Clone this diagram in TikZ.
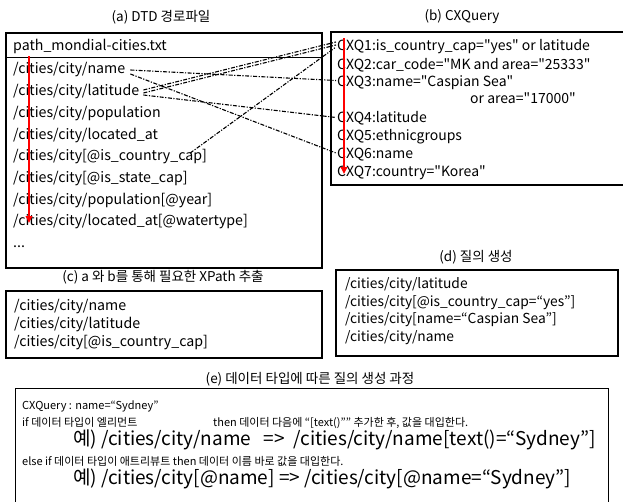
\documentclass[tikz,border=0pt]{standalone}
\usepackage{fontspec}
\newfontfamily\krfont{Noto Sans CJK KR}
\usetikzlibrary{arrows.meta}

\begin{document}
\begin{tikzpicture}[
  x=1pt, y=-1pt,
  ttl/.style={inner sep=1pt, font=\krfont\fontsize{13.5}{16}\selectfont},
  row/.style={anchor=west, inner sep=1pt, text height=0.75em, text depth=0.2em},
  rowa/.style={row, font=\krfont\fontsize{14.2}{16}\selectfont},
  rowb/.style={row, font=\krfont\fontsize{14}{16}\selectfont},
  rowd/.style={row, font=\krfont\fontsize{13.8}{16}\selectfont},
  rowe/.style={row, font=\krfont\fontsize{11}{13}\selectfont},
  rowbig/.style={row, font=\krfont\fontsize{19}{21}\selectfont},
  panel/.style={draw, line width=1.8pt, anchor=north west, inner sep=0pt},
  link/.style={line width=1.1pt, dash pattern=on 4pt off 1.5pt on 1.2pt off 1.5pt},
  redarr/.style={draw=red, line width=2pt, -{Triangle[length=7pt,width=6.5pt]}}
]
\useasboundingbox (0,0) rectangle (623,501);

% titles
\node[ttl] (ta) at (161,17) {(a) DTD 경로파일};
\node[ttl] (tb) at (462,17) {(b) CXQuery};
\node[ttl] (tc) at (163,277) {(c) a 와 b를 통해 필요한 XPath 추출};
\node[ttl] (td) at (476,257) {(d) 질의 생성};
\node[ttl] (te) at (310,379) {(e) 데이터 타입에 따른 질의 생성 과정};

% (a) path file
\node[panel, minimum width=316pt, minimum height=235pt] (boxa) at (5,32) {};
\draw[line width=1pt] ([yshift=-25pt]boxa.north west) -- ([yshift=-25pt]boxa.north east);
\node[rowa] (a0) at (12,47.5) {path\_mondial-cities.txt};
\node[rowa] (a1) at (12,71) {/cities/city/name};
\node[rowa] (a2) at (12,93) {/cities/city/latitude};
\node[rowa] (a3) at (12,115) {/cities/city/population};
\node[rowa] (a4) at (12,137) {/cities/city/located\_at};
\node[rowa] (a5) at (12,158) {/cities/city[@is\_country\_cap]};
\node[rowa] (a6) at (12,180) {/cities/city[@is\_state\_cap]};
\node[rowa] (a7) at (12,202) {/cities/city/population[@year]};
\node[rowa] (a8) at (12,223) {/cities/city/located\_at[@watertype]};
\node[rowa] (a9) at (12,245) {...};

% (b) CXQuery
\draw[line width=1.8pt] (625,32) -| (331,185) -- (625,185);
\node[rowb] (b1) at (336,48) {CXQ1:is\_country\_cap="yes" or latitude};
\node[rowb] (b2) at (336,67) {CXQ2:car\_code="MK and area="25333"};
\node[rowb] (b3) at (336,83.5) {CXQ3:name="Caspian Sea"};
\node[rowb] (b3x) at (469,101) {or area="17000"};
\node[rowb] (b4) at (336,119.5) {CXQ4:latitude};
\node[rowb] (b5) at (336,138) {CXQ5:ethnicgroups};
\node[rowb] (b6) at (336,156) {CXQ6:name};
\node[rowb] (b7) at (336,174) {CXQ7:country="Korea"};

% links between (a) and (b)
\draw[link] ([xshift=4pt,yshift=1pt]a1.east) -- ([yshift=3pt]b3.west);
\draw[link] ([xshift=4pt,yshift=-3pt]a1.east) -- ([yshift=3pt]b6.west);
\draw[link] ([xshift=3pt,yshift=3pt]a2.east) -- ([yshift=6pt]b1.west);
\draw[link] ([xshift=3pt]a2.east) -- ([yshift=3pt]b1.west);
\draw[link] ([xshift=3pt,yshift=-2pt]a2.east) -- ([yshift=2pt]b4.west);
\draw[link] ([xshift=-18pt,yshift=-1pt]a5.north east) -- ([yshift=1pt]b1.west);

% scan arrows
\draw[redarr] ([xshift=17pt,yshift=-3pt]a0.south west) -- ([xshift=17pt]a8.west);
\draw[redarr] ([xshift=8pt,yshift=4pt]b1.north west) -- ([xshift=8pt]b7.west);

% (c) extracted XPath
\node[panel, line width=2.2pt, minimum width=316pt, minimum height=67pt] (boxc) at (5,290) {};
\node[rowa] (c1) at (13,308) {/cities/city/name};
\node[rowa] (c2) at (13,326) {/cities/city/latitude};
\node[rowa] (c3) at (13,344) {/cities/city[@is\_country\_cap]};

% (d) generated queries
\node[panel, line width=2.4pt, minimum width=282pt, minimum height=86pt] (boxd) at (335,269) {};
\node[rowd] (d1) at (344,286) {/cities/city/latitude};
\node[rowd] (d2) at (344,303.5) {/cities/city[@is\_country\_cap=“yes”]};
\node[rowd] (d3) at (344,321) {/cities/city[name=“Caspian Sea”]};
\node[rowd] (d4) at (344,339) {/cities/city/name};

% (e) process
\draw[line width=0.9pt] (15,505) |- (608,388) -- (608,505);
\node[rowe] (e1) at (21,407) {CXQuery : name=“Sydney”};
\node[rowe] (e2) at (21,424) {if 데이터 타입이 엘리먼트};
\node[rowe] (e2x) at (212,424) {then 데이터 다음에 “[text()”” 추가한 후, 값을 대입한다.};
\node[rowbig] (e3) at (72,443) {예) /cities/city/name\ \ \ =>\ \ /cities/city/name[text()=“Sydney”]};
\node[rowe] (e4) at (21,463) {else if 데이터 타입이 애트리뷰트 then 데이터 이름 바로 값을 대입한다.};
\node[rowbig] (e5) at (72,482) {예) /cities/city[@name] => /cities/city[@name=“Sydney”]};
\end{tikzpicture}
\end{document}
